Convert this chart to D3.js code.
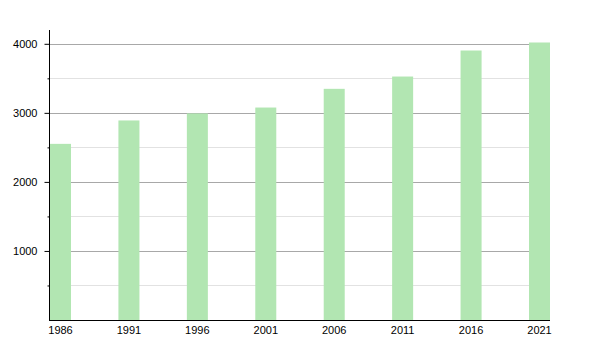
<!DOCTYPE html>
<html>
<head>
<meta charset="utf-8">
<script src="https://cdn.jsdelivr.net/npm/d3@7"></script>
<style>
  body { margin: 0; background: #fff; }
  text { font-family: "Liberation Sans", Arial, sans-serif; font-size: 11px; fill: #000; }
</style>
</head>
<body>
<div id="chart"></div>
<script>
let years = ["1986", "1991", "1996", "2001", "2006", "2011", "2016", "2021"];
let population = [2551, 2890, 2992, 3077, 3348, 3526, 3903, 4019];
let majorTicks = [1000, 2000, 3000, 4000];
let minorTicks = [500, 1500, 2500, 3500];

let margin = { top: 30, left: 50, right: 50, bottom: 30 },
    width = 600,
    height = 350;

let svg = d3.select("#chart")
  .append("svg")
  .attr("width", width)
  .attr("height", height);

let x = d3.scaleBand()
  .domain(years)
  .range([margin.left, width - margin.right])
  .paddingInner(0.693)
  .paddingOuter(0)
  .align(0);

let y = d3.scaleLinear()
  .domain([0, 4200])
  .range([height - margin.bottom, margin.top]);

// gridlines
svg.append("g")
  .selectAll("line.minor")
  .data(minorTicks)
  .enter()
    .append("line")
    .attr("x1", margin.left)
    .attr("x2", width - margin.right)
    .attr("y1", d => Math.round(y(d)) + 0.5)
    .attr("y2", d => Math.round(y(d)) + 0.5)
    .attr("stroke", "#e2e2e2");

svg.append("g")
  .selectAll("line.major")
  .data(majorTicks)
  .enter()
    .append("line")
    .attr("x1", margin.left)
    .attr("x2", width - margin.right)
    .attr("y1", d => Math.round(y(d)) + 0.5)
    .attr("y2", d => Math.round(y(d)) + 0.5)
    .attr("stroke", "#a8a8a8");

// bars
svg.append("g")
  .selectAll("rect")
  .data(population)
  .enter()
    .append("rect")
    .attr("x", (d, i) => x(years[i]))
    .attr("y", d => y(d))
    .attr("width", x.bandwidth())
    .attr("height", d => y(0) - y(d))
    .attr("fill", "#b2e6b2");

// y axis
let yAxis = svg.append("g")
  .attr("transform", `translate(${margin.left - 0.5},0)`)
  .call(d3.axisLeft(y).tickValues(majorTicks).tickSize(5).tickPadding(7).tickFormat(d3.format("d")));
yAxis.select(".domain").remove();
yAxis.selectAll("line").attr("stroke", "#000");

let yMinor = svg.append("g")
  .attr("transform", `translate(${margin.left - 0.5},0)`)
  .call(d3.axisLeft(y).tickValues(minorTicks).tickSize(2).tickFormat(""));
yMinor.select(".domain").remove();
yMinor.selectAll("line").attr("stroke", "#000");

svg.append("line")
  .attr("x1", margin.left - 0.5)
  .attr("x2", margin.left - 0.5)
  .attr("y1", margin.top)
  .attr("y2", y(0))
  .attr("stroke", "#000");

// x axis
let xAxis = svg.append("g")
  .attr("transform", `translate(0,${y(0)})`)
  .call(d3.axisBottom(x).tickSize(0).tickPadding(6));
xAxis.select(".domain").remove();

svg.append("line")
  .attr("x1", margin.left - 1)
  .attr("x2", width - margin.right)
  .attr("y1", y(0) + 0.5)
  .attr("y2", y(0) + 0.5)
  .attr("stroke", "#000");

svg.selectAll(".tick text").style("font-family", "'Liberation Sans', Arial, sans-serif").style("font-size", "11px").attr("fill", "#000");
</script>
</body>
</html>
